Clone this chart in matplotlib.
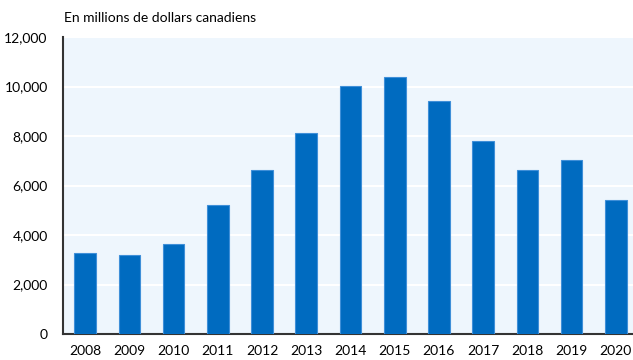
import numpy as np
import matplotlib.pyplot as plt
from matplotlib.ticker import FuncFormatter

# Valeurs annuelles, en millions de dollars canadiens
annees = ['2008', '2009', '2010', '2011', '2012', '2013', '2014',
          '2015', '2016', '2017', '2018', '2019', '2020']
valeurs = [3270, 3180, 3620, 5200, 6640, 8130, 10040,
           10390, 9430, 7780, 6630, 7020, 5400]

plt.rcParams['font.family'] = ['Lato', 'DejaVu Sans']

fig = plt.figure(figsize=(6.33, 3.6), dpi=100)
# zone du graphique (coordonnées en fraction de la figure)
ax = fig.add_axes([63 / 633, (360 - 334) / 360, 575 / 633, 297 / 360])

x = np.arange(len(annees))
ax.bar(x, valeurs, width=0.49, color='#006bc0', edgecolor='#3f8fd8',
       linewidth=0.8, zorder=3)

ax.set_facecolor('#eef6fd')
ax.set_xlim(-0.5, len(annees) - 0.5)
ax.set_ylim(0, 12000)
ax.set_yticks(np.arange(0, 12001, 2000))
ax.yaxis.set_major_formatter(FuncFormatter(lambda v, p: f'{int(v):,}'))
ax.set_xticks(x)
ax.set_xticklabels(annees)
ax.grid(axis='y', color='white', linewidth=1.5, zorder=1)
ax.tick_params(axis='both', length=0, labelsize=10, colors='black')
ax.tick_params(axis='y', pad=11)
ax.tick_params(axis='x', pad=8)

for s in ['top', 'right']:
    ax.spines[s].set_visible(False)
for s in ['left', 'bottom']:
    ax.spines[s].set_color('#333333')
    ax.spines[s].set_linewidth(1.5)

fig.text(64 / 633, 1 - 18 / 360, 'En millions de dollars canadiens',
         fontsize=10, va='center', ha='left')

fig.savefig('out.png', dpi=100)
